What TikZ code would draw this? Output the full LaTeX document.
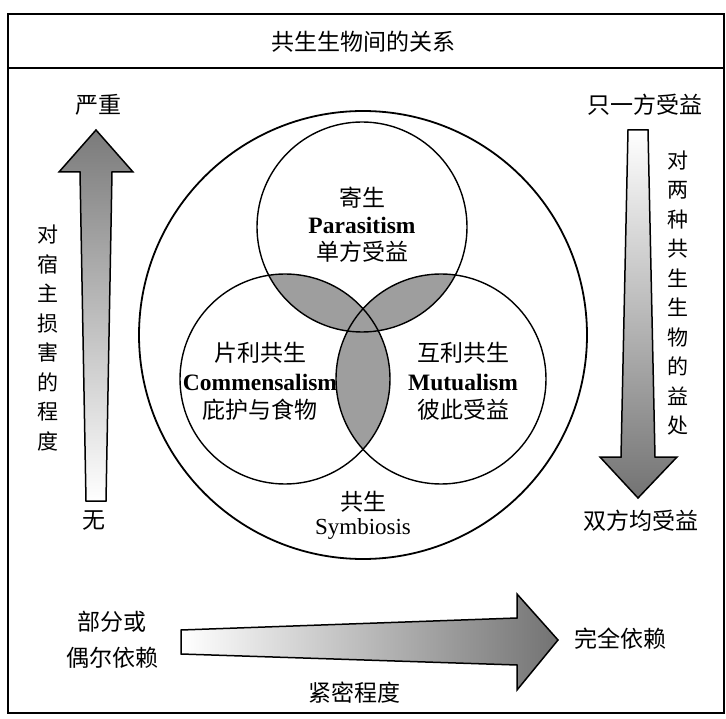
\documentclass[tikz,border=0pt]{standalone}
\usepackage{fontspec}
\setmainfont{Liberation Serif}
\newfontfamily\cjk{Noto Sans CJK SC}
\begin{document}
\begin{tikzpicture}[x=1pt,y=-1pt,
  cjktext/.style={font=\cjk\fontsize{23}{26}\selectfont, inner sep=0pt},
  entext/.style={font=\bfseries\fontsize{23.5}{26}\selectfont, inner sep=0pt},
  vtext/.style={font=\cjk\fontsize{21}{29.5}\selectfont, align=center, inner sep=0pt},
  venn/.style={circle, draw, line width=1.4pt, minimum size=210pt, inner sep=0pt},
  lens/.style={fill=black!38},
  bigarrow/.style={draw, line width=1.5pt, line join=miter}]
\useasboundingbox (0,0) rectangle (726,719);
% frame
\draw[line width=1.6pt] (8,14) rectangle (724,713);
\draw[line width=1.6pt] (8,68) -- (724,68);
\node[cjktext] (title) at (363,42) {共生生物间的关系};

% lenses
\begin{scope}
  \clip (362,227) circle[radius=105pt];
  \fill[lens] (285,379) circle[radius=105pt];
  \fill[lens] (441,379) circle[radius=105pt];
\end{scope}
\begin{scope}
  \clip (285,379) circle[radius=105pt];
  \fill[lens] (441,379) circle[radius=105pt];
\end{scope}

% circles
\node[circle, draw, line width=1.8pt, minimum size=448pt, inner sep=0pt] (sym) at (363,335) {};
\node[venn] (par) at (362,227) {};
\node[venn] (com) at (285,379) {};
\node[venn] (mut) at (441,379) {};

% circle texts
\node[cjktext] (parzh) at (362,198) {寄生};
\node[entext] (paren) at (362,225) {Parasitism};
\node[cjktext] (pardesc) at (362,252) {单方受益};
\node[cjktext] (comzh) at (260,353) {片利共生};
\node[entext] (comen) at (260,382) {Commensalism};
\node[cjktext] (comdesc) at (260,410) {庇护与食物};
\node[cjktext] (mutzh) at (463,353) {互利共生};
\node[entext] (muten) at (463,382) {Mutualism};
\node[cjktext] (mutdesc) at (463,410) {彼此受益};
\node[cjktext] (symzh) at (363,502) {共生};
\node[font=\fontsize{23}{26}\selectfont, inner sep=0pt] (symen) at (363,529) {Symbiosis};

% left arrow (harm)
\shadedraw[bigarrow, top color=black!52, bottom color=white]
  (86,501) -- (80,172) -- (59,172) -- (96,130) -- (133,172) -- (112,172) -- (106,501) -- cycle;
\node[cjktext] (severe) at (98,105) {严重};
\node[cjktext] (none) at (94,521) {无};
\node[vtext] (harm) at (48,338) {对\\宿\\主\\损\\害\\的\\程\\度};

% right arrow (benefit)
\shadedraw[bigarrow, top color=white, bottom color=black!55]
  (628,130) -- (648,130) -- (655,457) -- (677,457) -- (638,498) -- (600,457) -- (621,457) -- cycle;
\node[cjktext] (one) at (645,105) {只一方受益};
\node[cjktext] (both) at (641,521) {双方均受益};
\node[vtext] (benefit) at (678,293) {对\\两\\种\\共\\生\\生\\物\\的\\益\\处};

% bottom arrow (dependence)
\shadedraw[bigarrow, left color=white, right color=black!55]
  (181,630) -- (517,618) -- (517,594) -- (558,640) -- (517,690) -- (517,665) -- (181,654) -- cycle;
\node[cjktext, align=center, font=\cjk\fontsize{23}{36}\selectfont] (partial) at (112,640) {部分或\\偶尔依赖};
\node[cjktext] (full) at (620,639) {完全依赖};
\node[cjktext] (close) at (354,693) {紧密程度};
\end{tikzpicture}
\end{document}
